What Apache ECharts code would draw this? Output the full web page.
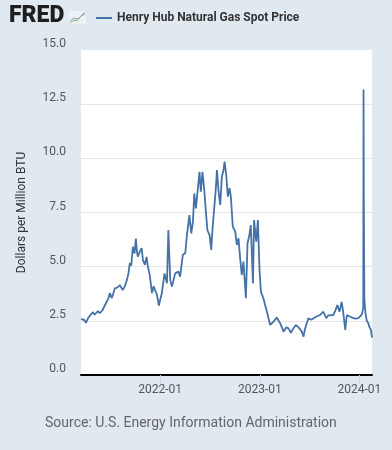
<!DOCTYPE html>
<html>
<head>
    <meta charset="utf-8">
    <title>Henry Hub Natural Gas Spot Price</title>
    <script src="https://cdn.jsdelivr.net/npm/echarts@6/dist/echarts.min.js"></script>
    <style>
        body { margin: 0; background: #e1e9f0; }
    </style>
</head>
<body>
<div id="main" style="width: 392px;height:450px;"></div>

<script type="text/javascript">
    // dates and prices (dollars per million BTU)
    var dates = [
        '2021-03-17', '2021-03-24', '2021-03-28', '2021-04-04', '2021-04-11', '2021-04-19', '2021-04-30', '2021-05-06', '2021-05-11',
        '2021-05-18', '2021-05-25', '2021-06-04', '2021-06-13', '2021-06-24', '2021-07-01', '2021-07-07', '2021-07-12', '2021-07-19',
        '2021-07-30', '2021-08-06', '2021-08-17', '2021-08-25', '2021-09-01', '2021-09-07', '2021-09-12', '2021-09-17', '2021-09-23',
        '2021-09-29', '2021-10-04', '2021-10-08', '2021-10-11', '2021-10-19', '2021-10-25', '2021-10-30', '2021-11-06', '2021-11-12', '2021-11-17',
        '2021-11-24', '2021-12-02', '2021-12-08', '2021-12-13', '2021-12-19', '2021-12-24', '2021-12-27',
        '2022-01-07', '2022-01-17', '2022-01-26', '2022-01-31', '2022-02-07', '2022-02-13', '2022-02-25',
        '2022-03-09', '2022-03-15', '2022-03-25', '2022-04-03', '2022-04-09', '2022-04-18', '2022-04-25', '2022-05-01',
        '2022-05-06', '2022-05-12', '2022-05-18', '2022-05-25', '2022-05-30', '2022-06-05', '2022-06-11', '2022-06-18',
        '2022-06-23', '2022-07-01', '2022-07-07', '2022-07-12', '2022-07-18', '2022-07-24', '2022-07-28', '2022-08-03',
        '2022-08-09', '2022-08-15', '2022-08-21', '2022-08-25', '2022-08-31', '2022-09-06', '2022-09-12', '2022-09-17',
        '2022-09-24', '2022-10-03', '2022-10-09', '2022-10-15', '2022-10-21', '2022-10-27', '2022-11-02', '2022-11-11',
        '2022-11-17', '2022-11-24', '2022-11-29', '2022-12-07', '2022-12-11', '2022-12-19', '2022-12-25', '2022-12-31',
        '2023-01-05', '2023-01-14', '2023-01-27', '2023-02-08', '2023-02-20', '2023-03-04', '2023-03-17',
        '2023-03-29', '2023-04-08', '2023-04-16', '2023-04-25', '2023-05-04', '2023-05-13', '2023-05-23',
        '2023-06-04', '2023-06-10', '2023-06-16', '2023-06-28', '2023-07-08', '2023-07-17', '2023-07-26',
        '2023-08-02', '2023-08-10', '2023-08-22', '2023-09-01', '2023-09-09', '2023-09-16', '2023-09-27',
        '2023-10-04', '2023-10-12', '2023-10-20', '2023-10-28', '2023-11-03', '2023-11-10', '2023-11-16',
        '2023-11-28', '2023-12-10', '2023-12-20', '2023-12-28',
        '2024-01-10', '2024-01-15', '2024-01-16', '2024-01-17', '2024-01-19', '2024-01-23', '2024-01-28',
        '2024-02-03', '2024-02-06', '2024-02-12', '2024-02-16'
    ];
    var prices = [
        2.58, 2.50, 2.55, 2.41, 2.60, 2.75, 2.90, 2.78, 2.85,
        2.95, 2.85, 3.00, 3.23, 3.50, 3.78, 3.55, 3.70, 4.00,
        4.05, 4.15, 3.92, 4.10, 4.38, 4.70, 5.17, 5.05, 5.92,
        5.60, 6.30, 5.70, 5.46, 5.70, 5.86, 5.30, 5.08, 5.45, 5.00,
        4.60, 3.78, 4.10, 3.92, 3.75, 3.46, 3.20,
        3.77, 4.69, 4.23, 6.69, 4.38, 4.08, 4.69,
        4.77, 4.54, 5.54, 5.63, 6.46, 7.38, 6.54, 7.08,
        8.38, 7.69, 8.46, 9.38, 8.46, 9.38, 8.62, 7.46,
        6.69, 6.46, 5.77, 6.77, 6.85, 8.62, 9.46, 8.46,
        7.85, 9.15, 9.46, 9.85, 9.23, 8.23, 8.62, 8.23,
        6.85, 6.62, 6.00, 6.31, 5.38, 4.62, 5.23, 3.54,
        6.08, 6.46, 6.92, 4.23, 7.15, 6.15, 7.15, 4.85,
        3.85, 3.54, 2.92, 2.31, 2.46, 2.65, 2.38,
        2.00, 2.20, 2.15, 1.95, 2.15, 2.31, 2.20,
        2.00, 1.77, 2.15, 2.62, 2.55, 2.62, 2.69,
        2.60, 2.77, 2.92, 2.62, 2.75, 2.69, 2.77,
        2.95, 3.23, 2.92, 3.38, 2.85, 2.08, 2.77,
        2.69, 2.62, 2.60, 2.62,
        2.80, 3.10, 13.18, 8.15, 3.50, 2.85, 2.50,
        2.38, 2.23, 2.08, 1.72
    ];
    var yearTicks = ['2022-01-01', '2023-01-01', '2024-01-01'];
    var xStart = '2021-03-17';
    var xEnd = '2024-02-16';

    var myChart = echarts.init(document.getElementById('main'));

    function toTime(s) {
        return Date.parse(s + 'T00:00:00Z');
    }

    var seriesData = [];
    for (var i = 0; i < dates.length; i++) {
        seriesData.push([toTime(dates[i]), prices[i]]);
    }
    var tickValues = [];
    for (var i = 0; i < yearTicks.length; i++) {
        tickValues.push(toTime(yearTicks[i]));
    }

    myChart.setOption({
        backgroundColor: '#e1e9f0',
        textStyle: { fontFamily: 'Roboto' },
        legend: {
            left: 91,
            top: 7,
            icon: 'rect',
            itemWidth: 16,
            itemHeight: 2,
            itemGap: 6,
            textStyle: { color: '#333', fontSize: 12, fontWeight: 'bold' },
            data: ['Henry Hub Natural Gas Spot Price']
        },
        graphic: [
            {
                type: 'text',
                left: 9,
                top: 5,
                style: { text: 'FRED', font: '900 23px Roboto', fill: '#1e1e1e' }
            },
            {
                type: 'rect',
                shape: { x: 69, y: 11, width: 17, height: 13 },
                style: { fill: '#eef2f4' }
            },
            {
                type: 'polyline',
                shape: { points: [[70, 23], [74, 20], [77, 21], [81, 16], [85, 14]] },
                style: { stroke: '#8ab36a', lineWidth: 1, fill: null }
            },
            {
                type: 'polyline',
                shape: { points: [[70, 21], [74, 18], [78, 19], [82, 15], [85, 12]] },
                style: { stroke: '#7aa0c8', lineWidth: 1, fill: null }
            },
            {
                type: 'text',
                left: 45,
                top: 416,
                style: { text: 'Source: U.S. Energy Information Administration', font: '14px Roboto', fill: '#666' }
            }
        ],
        grid: {
            left: 81,
            right: 20,
            top: 50,
            bottom: 75,
            show: true,
            backgroundColor: '#fff',
            borderWidth: 0
        },
        xAxis: {
            type: 'value',
            min: toTime(xStart),
            max: toTime(xEnd),
            axisLine: { show: true, lineStyle: { color: '#000', width: 2 } },
            axisTick: {
                show: true,
                customValues: tickValues,
                length: 9,
                lineStyle: { color: '#ccd6eb' }
            },
            axisLabel: {
                customValues: tickValues,
                color: '#555',
                fontSize: 12,
                margin: 9,
                formatter: function (v) {
                    var d = new Date(v);
                    var m = d.getUTCMonth() + 1;
                    return d.getUTCFullYear() + '-' + (m < 10 ? '0' + m : m);
                }
            },
            splitLine: { show: false }
        },
        yAxis: {
            type: 'value',
            min: 0,
            max: 15,
            interval: 2.5,
            name: 'Dollars per Million BTU',
            nameLocation: 'middle',
            nameGap: 53,
            nameTextStyle: { color: '#333', fontSize: 12 },
            axisLine: { show: false },
            axisTick: { show: false },
            axisLabel: {
                color: '#555',
                fontSize: 12,
                margin: 15,
                verticalAlign: 'bottom',
                formatter: function (v) { return v.toFixed(1); }
            },
            splitLine: {
                lineStyle: {
                    color: ['#e6e6e6', '#e6e6e6', '#e6e6e6', '#e6e6e6', '#e6e6e6', '#e6e6e6', 'rgba(0,0,0,0)'],
                    width: 1
                }
            }
        },
        series: [
            {
                name: 'Henry Hub Natural Gas Spot Price',
                type: 'line',
                data: seriesData,
                showSymbol: false,
                symbol: 'none',
                lineStyle: { color: '#4572a7', width: 1.8 },
                itemStyle: { color: '#4572a7' },
                animation: false
            }
        ]
    });
</script>
</body>
</html>
